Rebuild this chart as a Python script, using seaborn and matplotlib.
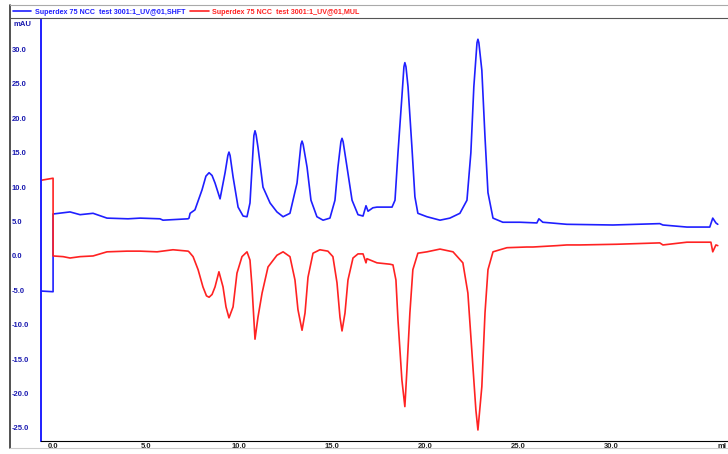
import matplotlib
matplotlib.use("Agg")
import matplotlib.pyplot as plt
import seaborn as sns
from matplotlib.ticker import MultipleLocator, FixedLocator, FormatStrFormatter
from matplotlib.lines import Line2D

# retention time and signal (mAU)
blue_t = [-0.65, 0.0, 0.0, 0.91, 1.45, 2.15, 2.90, 4.03, 4.68, 5.75, 5.91, 7.26, 7.31, 7.37,
          7.63, 8.01, 8.22, 8.39, 8.55, 8.71, 8.98, 9.25, 9.40, 9.46, 9.52, 9.68, 9.95,
          10.22, 10.43, 10.59, 10.80, 10.86, 10.92, 11.02, 11.29, 11.67, 12.04, 12.37,
          12.74, 13.12, 13.33, 13.39, 13.45, 13.66, 13.87, 14.19, 14.52, 14.89, 15.16,
          15.32, 15.48, 15.54, 15.60, 15.81, 16.08, 16.40, 16.67, 16.83, 16.94, 17.20,
          17.42, 17.74, 18.12, 18.23, 18.39, 18.55, 18.76, 18.87, 18.92, 18.98, 19.09,
          19.30, 19.46, 19.62, 20.11, 20.81, 21.34, 21.88, 22.26, 22.47, 22.63, 22.80,
          22.85, 22.90, 23.06, 23.23, 23.39, 23.66, 24.19, 25.11, 26.02, 26.13, 26.34,
          27.63, 30.11, 32.63, 32.80, 34.09, 35.32, 35.48, 35.65, 35.75]
blue_v = [-5.1, -5.2, 6.1, 6.4, 6.0, 6.2, 5.5, 5.4, 5.5, 5.4, 5.2, 5.4, 5.5, 6.2,
          6.7, 9.6, 11.6, 12.1, 11.7, 10.6, 8.3, 12.1, 14.6, 15.1, 14.6, 11.5, 7.1,
          5.8, 5.7, 7.7, 17.5, 18.2, 17.6, 15.8, 10.0, 7.7, 6.4, 5.7,
          6.2, 10.6, 16.2, 16.7, 16.2, 12.9, 8.1, 5.7, 5.2, 5.5, 8.1,
          12.9, 16.6, 17.1, 16.6, 12.9, 8.1, 6.0, 5.8, 7.3, 6.5, 7.0,
          7.1, 7.1, 7.1, 7.1, 8.1, 15.0, 23.1, 27.5, 28.1, 27.5, 24.6,
          15.8, 8.6, 6.2, 5.7, 5.2, 5.5, 6.2, 8.1, 15.0, 24.6, 31.0,
          31.5, 31.0, 27.0, 17.3, 9.2, 5.5, 4.9, 4.9, 4.8, 5.4, 4.9,
          4.6, 4.5, 4.7, 4.5, 4.2, 4.2, 5.5, 4.8, 4.6]

red_t = [-0.65, 0.0, 0.0, 0.54, 0.91, 1.45, 2.15, 2.90, 3.98, 4.68, 5.59, 6.45, 7.26, 7.31,
         7.53, 7.80, 8.06, 8.25, 8.39, 8.55, 8.71, 8.92, 9.14, 9.30, 9.46, 9.68, 9.89,
         10.16, 10.43, 10.59, 10.70, 10.86, 11.02, 11.24, 11.56, 12.04, 12.37, 12.74,
         13.01, 13.17, 13.39, 13.55, 13.71, 13.98, 14.35, 14.78, 15.05, 15.27, 15.43,
         15.54, 15.70, 15.86, 16.13, 16.40, 16.67, 16.83, 16.88, 17.42, 18.12, 18.28,
         18.44, 18.55, 18.76, 18.92, 19.03, 19.19, 19.35, 19.62, 20.11, 20.81, 21.51,
         22.04, 22.31, 22.53, 22.74, 22.85, 23.06, 23.23, 23.39, 23.66, 24.41, 25.48,
         25.81, 27.10, 27.63, 28.33, 30.32, 32.63, 32.80, 34.09, 35.38, 35.48, 35.65, 35.75]
red_v = [11.0, 11.3, 0.0, -0.1, -0.3, -0.1, 0.0, 0.6, 0.7, 0.7, 0.6, 0.9, 0.7, 0.6,
         -0.1, -2.0, -4.5, -5.8, -6.0, -5.6, -4.5, -2.3, -4.5, -7.4, -9.0, -7.4, -2.5,
         -0.1, 0.6, -0.6, -4.5, -12.1, -8.9, -5.4, -1.6, 0.1, 0.6, -0.1,
         -3.5, -7.8, -10.8, -8.3, -3.1, 0.4, 0.9, 0.7, -0.1, -3.9, -8.9,
         -10.9, -8.3, -3.5, -0.3, 0.3, 0.3, -1.0, -0.4, -1.0, -1.2, -1.3,
         -3.5, -9.3, -18.0, -21.9, -16.6, -8.3, -2.0, 0.4, 0.6, 1.0, 0.6,
         -1.0, -5.4, -14.1, -22.4, -25.3, -19.0, -8.3, -2.0, 0.6, 1.2, 1.3,
         1.3, 1.5, 1.6, 1.6, 1.7, 1.9, 1.6, 2.0, 2.0, 0.6, 1.6, 1.5]

labels = ["Superdex 75 NCC  test 3001:1_UV@01,SHFT",
          "Superdex 75 NCC  test 3001:1_UV@01,MUL"]
x_labeled = [0, 5, 10, 15, 20, 25, 30]
x_unit = "ml"
y_unit = "mAU"

BLUE = "#1f1fff"
RED = "#ff2222"

sns.set_style("white")
plt.rcParams['font.family'] = ['Liberation Sans', 'DejaVu Sans']

fig = plt.figure(figsize=(7.28, 4.54), dpi=100)
ax = fig.add_axes([41 / 728, 13 / 454, 687 / 728, 421 / 454])

sns.lineplot(x=blue_t, y=blue_v, ax=ax, color=BLUE, lw=1.2,
             estimator=None, sort=False)
sns.lineplot(x=red_t, y=red_v, ax=ax, color=RED, lw=1.2,
             estimator=None, sort=False)

ax.set_xlim(-0.65, 36.3)
ax.set_ylim(-26.9, 34.3)

for s in ["top", "right"]:
    ax.spines[s].set_visible(False)
ax.spines["left"].set_color(BLUE)
ax.spines["left"].set_linewidth(1.4)
ax.spines["bottom"].set_color("black")
ax.spines["bottom"].set_linewidth(0.8)

ax.xaxis.set_major_locator(FixedLocator(x_labeled))
ax.xaxis.set_minor_locator(MultipleLocator(2.5))
ax.yaxis.set_major_locator(MultipleLocator(5))
ax.yaxis.set_minor_locator(MultipleLocator(2.5))
ax.xaxis.set_major_formatter(FormatStrFormatter("%.1f"))
ax.yaxis.set_major_formatter(FormatStrFormatter("%.1f"))

ax.tick_params(axis="y", which="major", direction="out", length=2.5, width=0.8,
               color=BLUE, labelcolor="#1a1ab0", labelsize=5.5, pad=18.5)
ax.tick_params(axis="y", which="minor", direction="out", length=1.5, width=0.6, color=BLUE)
ax.tick_params(axis="x", which="major", direction="inout", length=3, width=0.6,
               color="black", labelcolor="#202020", labelsize=5.5, pad=0.3)
ax.tick_params(axis="x", which="minor", direction="inout", length=2.5, width=0.6, color="black")
for lab in ax.get_yticklabels():
    lab.set_horizontalalignment("left")
    lab.set_fontweight("bold")
for lab in ax.get_xticklabels():
    lab.set_fontweight("bold")
ax.set_xlabel("")
ax.set_ylabel("")

# window frame and legend strip
fig.add_artist(Line2D([10 / 728, 10 / 728], [1 - 5 / 454, 1 - 448 / 454], color="#333333", lw=1.2))
fig.add_artist(Line2D([10 / 728, 1], [1 - 5 / 454, 1 - 5 / 454], color="#aaaaaa", lw=0.8))
fig.add_artist(Line2D([10 / 728, 1], [1 - 18 / 454, 1 - 18 / 454], color="#555555", lw=0.8))
fig.add_artist(Line2D([10 / 728, 1], [1 - 448 / 454, 1 - 448 / 454], color="#cccccc", lw=0.8))

handles = [Line2D([], [], color=BLUE, lw=1.2), Line2D([], [], color=RED, lw=1.2)]
leg = fig.legend(handles, labels, loc="center left", ncol=2, frameon=False,
                 bbox_to_anchor=(13 / 728, 1 - 12 / 454), fontsize=5.1,
                 handlelength=2.6, handletextpad=0.45, columnspacing=0.75,
                 borderpad=0, borderaxespad=0)
for txt, c in zip(leg.get_texts(), [BLUE, RED]):
    txt.set_color(c)
    txt.set_fontweight("bold")

fig.text(14 / 728, 1 - 24 / 454, y_unit, color="#1a1ab0", fontsize=5.5,
         fontweight="bold", va="center", ha="left")
fig.text(726 / 728, 1 - 446 / 454, x_unit, color="#202020", fontsize=5.5,
         fontweight="bold", va="center", ha="right")

fig.savefig("out.png", dpi=100, facecolor="white")
